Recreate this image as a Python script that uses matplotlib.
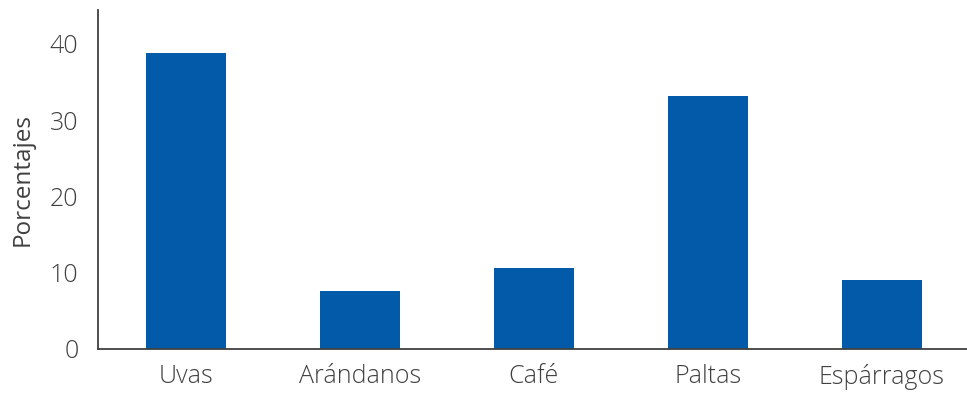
import matplotlib
matplotlib.use('Agg')
import matplotlib.pyplot as plt

categorias = ['Uvas', 'Arándanos', 'Café', 'Paltas', 'Espárragos']
porcentajes = [38.8, 7.6, 10.6, 33.2, 9.0]
ticks_y = [0, 10, 20, 30, 40]

plt.rcParams['font.family'] = ['Open Sans', 'DejaVu Sans']
plt.rcParams['font.weight'] = 'light'

fig = plt.figure(figsize=(9.67, 3.95), dpi=100)
ax = fig.add_axes([0.1013, 0.1165, 0.8987, 0.8582])

x = range(len(categorias))
ax.bar(x, porcentajes, width=0.46, color='#035AA8')

ax.set_xlim(-0.506, 4.489)
ax.set_ylim(0, 44.46)
ax.set_xticks(list(x))
ax.set_xticklabels(categorias)
ax.set_yticks(ticks_y)
ax.tick_params(length=0, labelsize=18, labelcolor='#404040')
ax.tick_params(axis='x', pad=11)
ax.tick_params(axis='y', pad=14)
ax.set_ylabel('Porcentajes', fontsize=17.5, color='#404040', labelpad=11)

for lado in ['top', 'right']:
    ax.spines[lado].set_visible(False)
for lado in ['left', 'bottom']:
    ax.spines[lado].set_color('#404040')
    ax.spines[lado].set_linewidth(1.3)

fig.savefig('out.png', dpi=100)
